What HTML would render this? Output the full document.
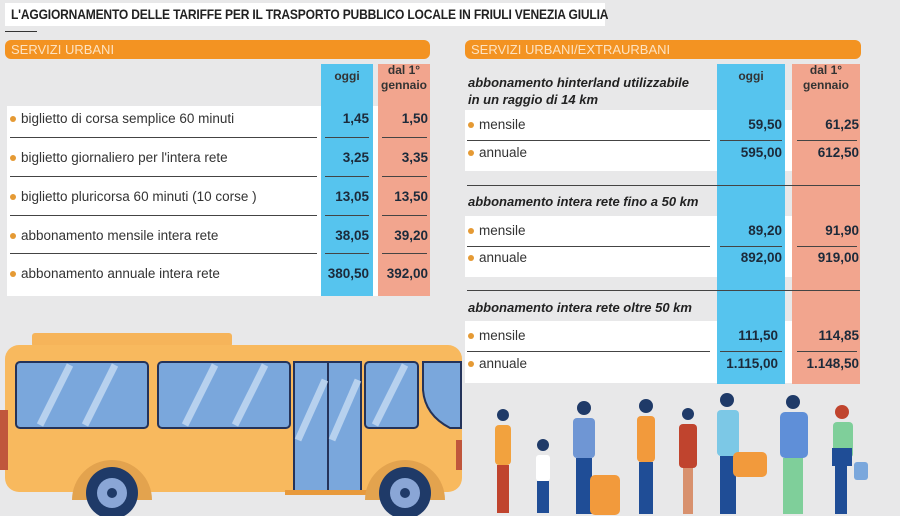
<!DOCTYPE html>
<html><head><meta charset="utf-8"><style>
*{margin:0;padding:0;box-sizing:border-box}
body{width:900px;height:516px;background:#e8e8e9;position:relative;overflow:hidden;font-family:"Liberation Sans",sans-serif}
.a{position:absolute}
.tbg{left:5px;top:3px;width:600px;height:23px;background:#fff}
.title{left:11px;top:3px;font-weight:bold;font-size:14px;line-height:23px;color:#222;transform:scaleX(0.86);transform-origin:left;white-space:nowrap;letter-spacing:-0.2px}
.ob{background:#f39322;border-radius:6px;color:#fde3c2;font-size:13px;line-height:19px;padding-left:6px}
.blue{background:#56c4ee}
.sal{background:#f2a58e}
.wh{background:#fff}
.t{font-size:13.5px;color:#333;white-space:nowrap}
.dot{display:inline-block;width:6px;height:6px;border-radius:50%;background:#e59a34;margin-right:5px;vertical-align:middle}
.n{font-size:13.5px;font-weight:bold;color:#1c2a3a;text-align:right;white-space:nowrap}
.hd{font-size:12px;font-weight:bold;color:#333;text-align:center;line-height:15px}
.ln{height:1px;background:#444}
.it{font-size:13px;font-weight:bold;font-style:italic;color:#222;white-space:nowrap}
</style></head><body>
<div class="a tbg"></div>
<div class="a title">L'AGGIORNAMENTO DELLE TARIFFE PER IL TRASPORTO PUBBLICO LOCALE IN FRIULI VENEZIA GIULIA</div>
<div class="a ln" style="left:5px;top:31px;width:32px;background:#333"></div>
<!-- left -->
<div class="a ob" style="left:5px;top:40px;width:425px;height:19px">SERVIZI URBANI</div>
<div class="a wh" style="left:7px;top:106px;width:423px;height:190px"></div>
<div class="a blue" style="left:321px;top:64px;width:52px;height:232px"></div>
<div class="a sal" style="left:378px;top:64px;width:52px;height:232px"></div>
<div class="a hd" style="left:321px;top:69px;width:52px">oggi</div>
<div class="a hd" style="left:378px;top:63px;width:52px">dal 1°<br>gennaio</div>
<div class="a t" style="left:10px;top:111px"><span class="dot"></span>biglietto di corsa semplice 60 minuti</div>
<div class="a t" style="left:10px;top:150px"><span class="dot"></span>biglietto giornaliero per l'intera rete</div>
<div class="a t" style="left:10px;top:189px"><span class="dot"></span>biglietto pluricorsa 60 minuti (10 corse )</div>
<div class="a t" style="left:10px;top:228px"><span class="dot"></span>abbonamento mensile intera rete</div>
<div class="a t" style="left:10px;top:266px"><span class="dot"></span>abbonamento annuale intera rete</div>
<div class="a n" style="left:300px;top:111px;width:69px">1,45</div>
<div class="a n" style="left:360px;top:111px;width:68px">1,50</div>
<div class="a n" style="left:300px;top:150px;width:69px">3,25</div>
<div class="a n" style="left:360px;top:150px;width:68px">3,35</div>
<div class="a n" style="left:300px;top:189px;width:69px">13,05</div>
<div class="a n" style="left:360px;top:189px;width:68px">13,50</div>
<div class="a n" style="left:300px;top:228px;width:69px">38,05</div>
<div class="a n" style="left:360px;top:228px;width:68px">39,20</div>
<div class="a n" style="left:300px;top:266px;width:69px">380,50</div>
<div class="a n" style="left:360px;top:266px;width:68px">392,00</div>
<div class="a ln" style="left:10px;top:137px;width:307px"></div><div class="a ln" style="left:325px;top:137px;width:44px"></div><div class="a ln" style="left:382px;top:137px;width:45px"></div>
<div class="a ln" style="left:10px;top:176px;width:307px"></div><div class="a ln" style="left:325px;top:176px;width:44px"></div><div class="a ln" style="left:382px;top:176px;width:45px"></div>
<div class="a ln" style="left:10px;top:215px;width:307px"></div><div class="a ln" style="left:325px;top:215px;width:44px"></div><div class="a ln" style="left:382px;top:215px;width:45px"></div>
<div class="a ln" style="left:10px;top:253px;width:307px"></div><div class="a ln" style="left:325px;top:253px;width:44px"></div><div class="a ln" style="left:382px;top:253px;width:45px"></div>
<!-- right -->
<div class="a ob" style="left:465px;top:40px;width:396px;height:19px">SERVIZI URBANI/EXTRAURBANI</div>
<div class="a wh" style="left:465px;top:110px;width:395px;height:61px"></div>
<div class="a wh" style="left:465px;top:216px;width:395px;height:61px"></div>
<div class="a wh" style="left:465px;top:321px;width:395px;height:62px"></div>
<div class="a blue" style="left:717px;top:64px;width:68px;height:320px"></div>
<div class="a sal" style="left:792px;top:64px;width:68px;height:320px"></div>
<div class="a hd" style="left:717px;top:69px;width:68px">oggi</div>
<div class="a hd" style="left:792px;top:63px;width:68px">dal 1°<br>gennaio</div>
<div class="a it" style="left:468px;top:74px;line-height:17px">abbonamento hinterland utilizzabile<br>in un raggio di 14 km</div>
<div class="a it" style="left:468px;top:194px">abbonamento intera rete fino a 50 km</div>
<div class="a it" style="left:468px;top:300px">abbonamento intera rete oltre 50 km</div>
<div class="a ln" style="left:467px;top:185px;width:393px"></div>
<div class="a ln" style="left:467px;top:290px;width:393px"></div>
<div class="a t" style="left:468px;top:117px"><span class="dot"></span>mensile</div>
<div class="a t" style="left:468px;top:145px"><span class="dot"></span>annuale</div>
<div class="a t" style="left:468px;top:223px"><span class="dot"></span>mensile</div>
<div class="a t" style="left:468px;top:250px"><span class="dot"></span>annuale</div>
<div class="a t" style="left:468px;top:328px"><span class="dot"></span>mensile</div>
<div class="a t" style="left:468px;top:356px"><span class="dot"></span>annuale</div>
<div class="a n" style="left:700px;top:117px;width:82px">59,50</div><div class="a n" style="left:780px;top:117px;width:79px">61,25</div>
<div class="a n" style="left:700px;top:145px;width:82px">595,00</div><div class="a n" style="left:780px;top:145px;width:79px">612,50</div>
<div class="a n" style="left:700px;top:223px;width:82px">89,20</div><div class="a n" style="left:780px;top:223px;width:79px">91,90</div>
<div class="a n" style="left:700px;top:250px;width:82px">892,00</div><div class="a n" style="left:780px;top:250px;width:79px">919,00</div>
<div class="a n" style="left:700px;top:328px;width:78px">111,50</div><div class="a n" style="left:780px;top:328px;width:79px">114,85</div>
<div class="a n" style="left:700px;top:356px;width:78px">1.115,00</div><div class="a n" style="left:780px;top:356px;width:79px">1.148,50</div>
<div class="a ln" style="left:467px;top:140px;width:243px"></div><div class="a ln" style="left:720px;top:140px;width:62px"></div><div class="a ln" style="left:797px;top:140px;width:60px"></div>
<div class="a ln" style="left:467px;top:246px;width:243px"></div><div class="a ln" style="left:720px;top:246px;width:62px"></div><div class="a ln" style="left:797px;top:246px;width:60px"></div>
<div class="a ln" style="left:467px;top:351px;width:243px"></div><div class="a ln" style="left:720px;top:351px;width:62px"></div><div class="a ln" style="left:797px;top:351px;width:60px"></div>
<!-- bus -->
<svg class="a" style="left:0;top:0" width="900" height="516">
<rect x="32" y="333" width="200" height="14" rx="3" fill="#f6b45a"/>
<rect x="5" y="345" width="457" height="147" rx="14" fill="#f8b95e"/>
<rect x="0" y="410" width="8" height="60" fill="#c0563c"/>
<rect x="456" y="440" width="6" height="30" fill="#c0563c"/>
<g fill="#7aa7dc" stroke="#24335a" stroke-width="2">
<rect x="16" y="362" width="132" height="66" rx="4"/>
<rect x="158" y="362" width="132" height="66" rx="4"/>
<rect x="294" y="362" width="34" height="130"/>
<rect x="328" y="362" width="33" height="130"/>
<rect x="365" y="362" width="53" height="66" rx="4"/>
<path d="M423 362 H461 V428 H450 Q425 415 423 390 Z"/>
</g>
<g stroke="#c7dcf3" stroke-width="7" opacity="0.8">
<line x1="40" y1="425" x2="70" y2="365"/><line x1="85" y1="425" x2="115" y2="365"/>
<line x1="185" y1="425" x2="215" y2="365"/><line x1="235" y1="425" x2="265" y2="365"/>
<line x1="298" y1="440" x2="325" y2="380"/><line x1="332" y1="440" x2="358" y2="380"/>
<line x1="375" y1="425" x2="405" y2="365"/>
</g>
<rect x="285" y="490" width="84" height="5" fill="#e89a3c"/>
<path d="M72 500 A40 40 0 0 1 152 500 Z" fill="#e3a34e"/>
<path d="M365 500 A40 40 0 0 1 445 500 Z" fill="#e3a34e"/>
<circle cx="112" cy="493" r="26" fill="#1f3a68"/><circle cx="112" cy="493" r="15" fill="#8aa6d6"/><circle cx="112" cy="493" r="5" fill="#1f3a68"/>
<circle cx="405" cy="493" r="26" fill="#1f3a68"/><circle cx="405" cy="493" r="15" fill="#8aa6d6"/><circle cx="405" cy="493" r="5" fill="#1f3a68"/>
<g>
<circle cx="503" cy="415" r="6" fill="#1f3a68"/><rect x="495" y="425" width="16" height="40" rx="4" fill="#f2a23e"/><rect x="497" y="465" width="12" height="48" fill="#c0442e"/>
<circle cx="543" cy="445" r="6" fill="#1f3a68"/><rect x="536" y="455" width="14" height="26" rx="3" fill="#fff"/><rect x="537" y="481" width="12" height="32" fill="#1f4d96"/>
<circle cx="584" cy="408" r="7" fill="#1f3a68"/><rect x="573" y="418" width="22" height="40" rx="4" fill="#6f96d4"/><rect x="576" y="458" width="16" height="56" fill="#1f4d96"/><rect x="590" y="475" width="30" height="40" rx="5" fill="#f29a3c"/>
<circle cx="646" cy="406" r="7" fill="#1f3a68"/><rect x="637" y="416" width="18" height="46" rx="4" fill="#f29a3c"/><rect x="639" y="462" width="14" height="52" fill="#1f4d96"/>
<circle cx="688" cy="414" r="6" fill="#1f3a68"/><rect x="679" y="424" width="18" height="44" rx="4" fill="#c0442e"/><rect x="683" y="468" width="10" height="46" fill="#d8916e"/>
<circle cx="727" cy="400" r="7" fill="#1f3a68"/><rect x="717" y="410" width="22" height="46" rx="4" fill="#7cc8e6"/><rect x="720" y="456" width="16" height="58" fill="#1f4d96"/><rect x="733" y="452" width="34" height="25" rx="5" fill="#f29a3c"/>
<circle cx="793" cy="402" r="7" fill="#1f3a68"/><rect x="780" y="412" width="28" height="46" rx="5" fill="#5f8fd8"/><rect x="783" y="458" width="20" height="56" fill="#7fcf9a"/>
<circle cx="842" cy="412" r="7" fill="#c0442e"/><rect x="833" y="422" width="20" height="36" rx="4" fill="#7fcf9a"/><rect x="832" y="448" width="20" height="18" fill="#1f4d96"/><rect x="835" y="466" width="12" height="48" fill="#1f4d96"/><rect x="854" y="462" width="14" height="18" rx="3" fill="#7aa7dc"/>
</g>
</svg>
</body></html>
